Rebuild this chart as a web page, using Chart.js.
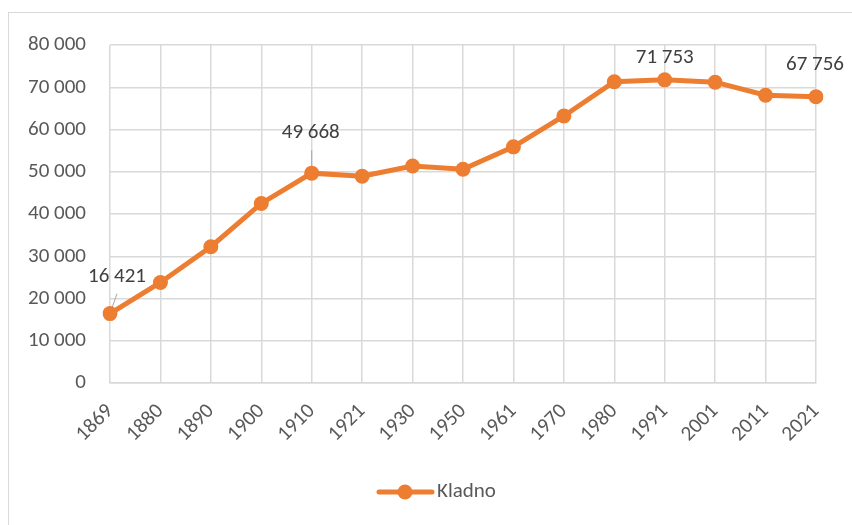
<!DOCTYPE html>
<html>
<head>
<meta charset="utf-8">
<script src="https://cdn.jsdelivr.net/npm/chart.js@4.4.1/dist/chart.umd.min.js"></script>
<style>
  html, body { margin: 0; padding: 0; background: #fff; }
  #frame { position: absolute; left: 8px; top: 12px; width: 900px; height: 600px; border: 1px solid #d9d9d9; }
  #wrap { position: absolute; left: 0; top: 0; width: 852px; height: 525px; }
</style>
</head>
<body>
<div id="frame"></div>
<div id="wrap"><canvas id="graph"></canvas></div>
<script>
const years = ['1869', '1880', '1890', '1900', '1910', '1921', '1930', '1950', '1961', '1970', '1980', '1991', '2001', '2011', '2021'];
const population = [16421, 23800, 32250, 42500, 49668, 48950, 51350, 50600, 55900, 63200, 71300, 71753, 71200, 68100, 67756];
const labelledYears = ['1869', '1910', '1991', '2021'];
const seriesName = 'Kladno';

const orange = '#ED7D31';
const fontFam = 'Carlito, Lato, sans-serif';
const fontSize = 21;

function fmt(v) {
  return String(v).replace(/\B(?=(\d{3})+(?!\d))/g, ' ');
}

// where each data label sits relative to its point (px)
const labelPos = {
  '1869': { dx: 7, dy: -37, leader: [7, -20] },
  '1910': { dx: -1, dy: -40, leader: [0, -23] },
  '1991': { dx: 0, dy: -22 },
  '2021': { dx: -1, dy: -32 }
};

const dataLabels = {
  id: 'dataLabels',
  beforeDatasetsDraw(chart) {
    const ctx = chart.ctx;
    const meta = chart.getDatasetMeta(0);
    ctx.save();
    ctx.strokeStyle = '#a6a6a6';
    ctx.lineWidth = 1;
    labelledYears.forEach(y => {
      const i = years.indexOf(y);
      const p = labelPos[y];
      if (!p.leader) return;
      const pt = meta.data[i];
      ctx.beginPath();
      ctx.moveTo(pt.x, pt.y);
      ctx.lineTo(pt.x + p.leader[0], pt.y + p.leader[1]);
      ctx.stroke();
    });
    ctx.restore();
  },
  afterDatasetsDraw(chart) {
    const ctx = chart.ctx;
    const meta = chart.getDatasetMeta(0);
    ctx.save();
    ctx.font = fontSize + 'px ' + fontFam;
    ctx.fillStyle = '#404040';
    ctx.textAlign = 'center';
    ctx.textBaseline = 'middle';
    labelledYears.forEach(y => {
      const i = years.indexOf(y);
      const p = labelPos[y];
      const pt = meta.data[i];
      ctx.fillText(fmt(population[i]), pt.x + p.dx, pt.y + p.dy);
    });
    ctx.restore();
  },
  afterDraw(chart) {
    // legend: line with marker + name
    const ctx = chart.ctx;
    const cx = 405, cy = 492;
    ctx.save();
    ctx.strokeStyle = orange;
    ctx.lineWidth = 5;
    ctx.lineCap = 'round';
    ctx.beginPath();
    ctx.moveTo(379, cy);
    ctx.lineTo(432, cy);
    ctx.stroke();
    ctx.fillStyle = orange;
    ctx.beginPath();
    ctx.arc(cx, cy, 7.5, 0, Math.PI * 2);
    ctx.fill();
    ctx.font = fontSize + 'px ' + fontFam;
    ctx.fillStyle = '#595959';
    ctx.textAlign = 'left';
    ctx.textBaseline = 'middle';
    ctx.fillText(seriesName, 437, cy);
    ctx.restore();
  }
};

const graph = document.getElementById('graph').getContext('2d');

let myChart = new Chart(graph, {
  type: 'line',
  data: {
    labels: years,
    datasets: [
      {
        label: seriesName,
        data: population,
        borderColor: orange,
        backgroundColor: orange,
        borderWidth: 5,
        pointRadius: 7.5,
        pointBorderWidth: 0,
        pointBackgroundColor: orange,
        tension: 0,
      },
    ],
  },
  options: {
    responsive: true,
    maintainAspectRatio: false,
    animation: false,
    layout: {
      padding: { top: 45, right: 36, left: 0, bottom: 0 },
    },
    plugins: {
      legend: { display: false },
      tooltip: { enabled: false },
    },
    scales: {
      x: {
        offset: false,
        grid: { color: '#d9d9d9', lineWidth: 1.5, drawTicks: false },
        border: { color: '#d9d9d9', width: 1.5 },
        ticks: {
          autoSkip: false,
          minRotation: 45,
          maxRotation: 45,
          padding: 16,
          color: '#595959',
          font: { family: fontFam, size: fontSize },
        },
        afterFit(scale) { scale.height = 142; },
      },
      y: {
        min: 0,
        max: 80000,
        grid: { color: '#d9d9d9', lineWidth: 1.5, drawTicks: false },
        border: { display: false },
        ticks: {
          stepSize: 10000,
          padding: 24,
          color: '#595959',
          font: { family: fontFam, size: fontSize },
          callback: v => fmt(v),
        },
        afterFit(scale) { scale.width = 110; },
      },
    },
  },
  plugins: [dataLabels],
});
</script>
</body>
</html>
